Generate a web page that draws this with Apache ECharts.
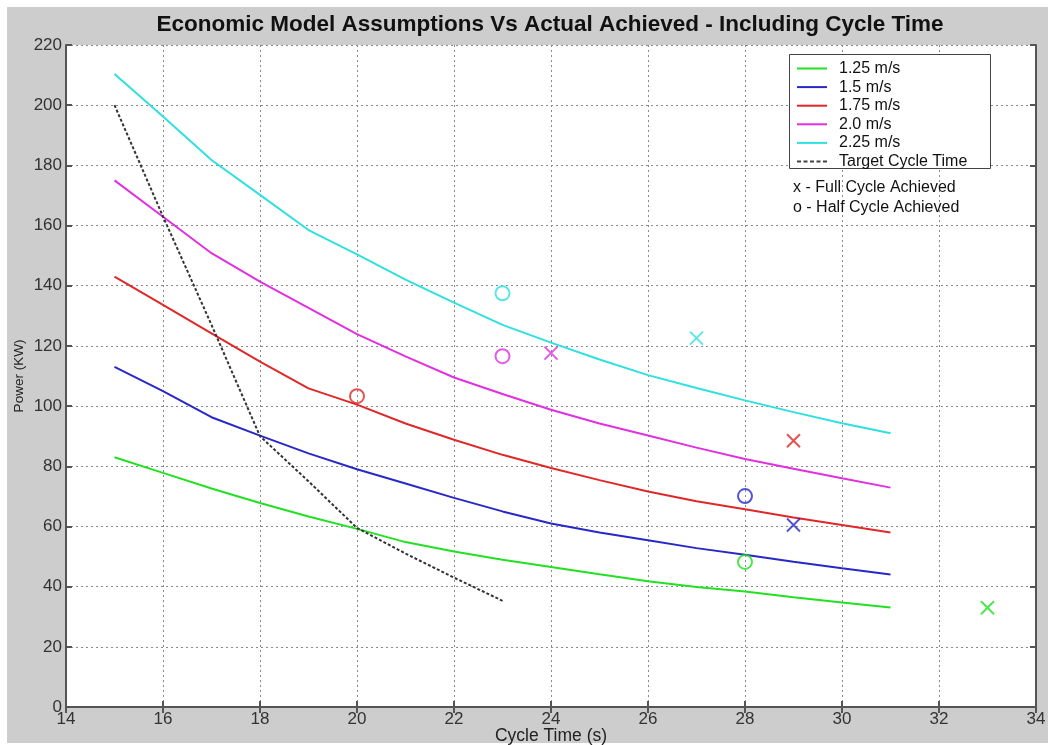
<!DOCTYPE html>
<html>
<head>
<meta charset="utf-8">
<script src="https://cdn.jsdelivr.net/npm/echarts@6/dist/echarts.min.js"></script>
<style>
  html, body { margin:0; padding:0; background:#ffffff; }
  #bg { position:absolute; left:7px; top:7px; width:1041px; height:736px; background:#cdcdcd; }
  #chart { position:absolute; left:0; top:0; width:1048px; height:745px; }
</style>
</head>
<body>
<div id="bg"></div>
<div id="chart"></div>
<script>
// ---- data ----
const cycleTimes = [15,16,17,18,19,20,21,22,23,24,25,26,27,28,29,30,31];
const speedNames = ['1.25 m/s','1.5 m/s','1.75 m/s','2.0 m/s','2.25 m/s'];
const speedColors = ['#22e022','#2828c8','#e02828','#e030e0','#30e0e0'];
const power125 = [83,77.8,72.6,67.8,63.3,59.2,54.8,51.7,48.9,46.5,44.1,41.8,39.9,38.4,36.5,34.7,33.1];
const power150 = [113,105,96.3,90.2,84.3,79,74.3,69.5,65,61,58,55.4,52.8,50.6,48.3,46.1,44];
const power175 = [143,133.6,124.2,114.8,105.9,100.5,94.2,88.8,83.8,79.4,75.4,71.6,68.4,65.7,63,60.5,58];
const power200 = [175,162.9,150.8,141.4,132.6,123.9,116.5,109.5,104,98.8,94.2,90.2,86.2,82.4,79.2,76,72.9];
const power225 = [210.4,196.2,181.8,170.2,158.5,150.4,142,134.4,127,121.1,115.5,110.3,106,101.9,98,94.3,91];
const targetName = 'Target Cycle Time';
const targetTimes = [15,16,17,18,19,20,21,22,23];
const targetPower = [200,163,127,90,75,59.5,51,43,35.3];
// achieved points, one per speed (same order as speedNames)
const fullAchieved = [[33,33],[29,60.5],[29,88.5],[24,117.6],[27,122.6]];
const halfAchieved = [[28,48.2],[28,70.1],[20,103.3],[23,116.6],[23,137.5]];
const noteLines = ['x - Full Cycle Achieved','o - Half Cycle Achieved'];
const xTicks = {min:14, max:34, step:2};
const yTicks = {min:0, max:220, step:20};

const speedSeries = [power125, power150, power175, power200, power225];

const chart = echarts.init(document.getElementById('chart'), null, {renderer:'canvas'});
const FONT = '"Liberation Sans", Arial, sans-serif';
const axisCol = '#555';
const gridLine = {show:true, lineStyle:{type:[2,3], color:'#8a8a8a', width:1}};
// legend icons: a 2px line inside a 30x14 box (solid / dashed)
const solidIcon = 'path://M0,0M0,6L30,6L30,8L0,8ZM30,14';
const dashedIcon = 'path://M0,0M0,6h4v2h-4zM6.5,6h4v2h-4zM13,6h4v2h-4zM19.5,6h4v2h-4zM26,6h4v2h-4zM30,14';

const series = [];
speedNames.forEach((n,i)=>{
  series.push({
    name:n, type:'line', symbol:'none', smooth:false, z:5,
    data: cycleTimes.map((t,k)=>[t, speedSeries[i][k]]),
    lineStyle:{color:speedColors[i], width:2}, itemStyle:{color:speedColors[i]}
  });
});
series.push({
  name:targetName, type:'line', symbol:'none', z:5,
  data: targetTimes.map((t,k)=>[t, targetPower[k]]),
  lineStyle:{color:'#333', width:2, type:[3,2]}, itemStyle:{color:'#444'}
});
series.push({
  name:'full', type:'scatter', symbol:'path://M0,0L10,10M10,0L0,10', symbolSize:13, z:6,
  data: fullAchieved.map((p,i)=>({value:p, itemStyle:{color:'none', borderColor:speedColors[i], borderWidth:2}}))
});
series.push({
  name:'half', type:'scatter', symbol:'circle', symbolSize:14, z:6,
  data: halfAchieved.map((p,i)=>({value:p, itemStyle:{color:'none', borderColor:speedColors[i], borderWidth:2}}))
});

const option = {
  backgroundColor:'transparent',
  animation:false,
  title:{
    text:'Economic Model Assumptions Vs Actual Achieved - Including Cycle Time',
    left:545, top:8, textAlign:'center',
    textStyle:{fontFamily:FONT, fontSize:22.5, fontWeight:'bold', color:'#111'}
  },
  grid:{left:66, right:12, top:45, bottom:38, show:true, backgroundColor:'#ffffff', borderWidth:0,
        containLabel:false, outerBoundsMode:'none'},
  legend:{
    data:[...speedNames.map(n=>({name:n, icon:solidIcon})), {name:targetName, icon:dashedIcon}],
    orient:'vertical', left:797, top:60.5, padding:0, z:20,
    itemWidth:30, itemHeight:14, itemGap:2.6,
    textStyle:{fontFamily:FONT, fontSize:16, color:'#111', padding:[0,0,0,7]}
  },
  xAxis:[{
    type:'value', min:xTicks.min, max:xTicks.max, interval:xTicks.step, position:'bottom',
    name:'Cycle Time (s)', nameLocation:'middle', nameGap:20, nameMoveOverlap:false,
    nameTextStyle:{fontFamily:FONT, fontSize:17.5, color:'#222'},
    axisLine:{show:true, lineStyle:{color:axisCol, width:2}},
    axisTick:{show:true, inside:true, length:6, lineStyle:{color:axisCol, width:2}},
    axisLabel:{fontFamily:FONT, fontSize:17, color:'#333', margin:4},
    splitLine:gridLine
  },{
    type:'value', min:xTicks.min, max:xTicks.max, interval:xTicks.step, position:'top',
    axisLine:{show:true, lineStyle:{color:axisCol, width:2}},
    axisTick:{show:true, inside:true, length:6, lineStyle:{color:axisCol, width:2}},
    axisLabel:{show:false}, splitLine:{show:false}
  }],
  yAxis:[{
    type:'value', min:yTicks.min, max:yTicks.max, interval:yTicks.step, position:'left',
    name:'Power (KW)', nameLocation:'middle', nameGap:40, nameMoveOverlap:false,
    nameTextStyle:{fontFamily:FONT, fontSize:13.5, color:'#222'},
    axisLine:{show:true, lineStyle:{color:axisCol, width:2}},
    axisTick:{show:true, inside:true, length:6, lineStyle:{color:axisCol, width:2}},
    axisLabel:{fontFamily:FONT, fontSize:17, color:'#333', margin:4},
    splitLine:gridLine
  },{
    type:'value', min:yTicks.min, max:yTicks.max, interval:yTicks.step, position:'right',
    axisLine:{show:true, lineStyle:{color:axisCol, width:2}},
    axisTick:{show:true, inside:true, length:6, lineStyle:{color:axisCol, width:2}},
    axisLabel:{show:false}, splitLine:{show:false}
  }],
  graphic:{elements:[
    {type:'rect', left:789, top:54, z:10, shape:{width:201, height:114},
     style:{fill:'#ffffff', stroke:'#444', lineWidth:1}},
    {type:'text', left:793, top:180, z:10,
     style:{text:noteLines[0], font:'16px "Liberation Sans", Arial, sans-serif', fill:'#111'}},
    {type:'text', left:793, top:200, z:10,
     style:{text:noteLines[1], font:'16px "Liberation Sans", Arial, sans-serif', fill:'#111'}}
  ]},
  series: series
};
chart.setOption(option);
</script>
</body>
</html>
